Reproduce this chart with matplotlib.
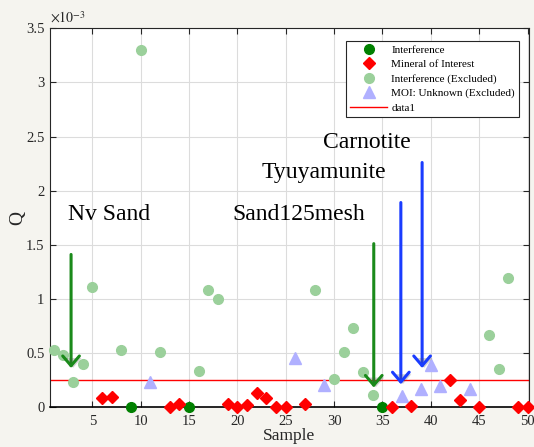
import matplotlib
matplotlib.use("Agg")
import matplotlib.pyplot as plt
import matplotlib.patheffects as pe
import numpy as np

plt.rcParams['font.family'] = ['Liberation Serif', 'DejaVu Serif']
plt.rcParams['mathtext.fontset'] = 'stix'

# Q values in units of 1e-3
interf_x = [9, 15, 35]
interf_y = [0.0, 0.0, 0.0]

moi_x = [6, 7, 13, 14, 19, 20, 21, 22, 23, 24, 25, 27, 36, 38, 42, 43, 45, 49, 50]
moi_y = [0.08, 0.095, 0.0, 0.03, 0.025, 0.0, 0.015, 0.125, 0.08, 0.0, 0.0, 0.03,
         0.0, 0.01, 0.245, 0.065, 0.0, 0.0, 0.0]

interf_ex_x = [1, 2, 3, 4, 5, 8, 10, 12, 16, 17, 18, 28, 30, 31, 32, 33, 34, 46, 47, 48]
interf_ex_y = [0.53, 0.48, 0.23, 0.40, 1.11, 0.525, 3.30, 0.51, 0.33, 1.08, 1.00, 1.08,
               0.26, 0.51, 0.73, 0.32, 0.11, 0.67, 0.35, 1.19]

moi_unk_x = [11, 26, 29, 37, 39, 40, 41, 44]
moi_unk_y = [0.235, 0.455, 0.20, 0.10, 0.17, 0.385, 0.19, 0.17]

threshold = 0.25

labels = ["Interference", "Mineral of Interest", "Interference (Excluded)",
          "MOI: Unknown (Excluded)", "data1"]

annotations = [
    # text, text x, text y, arrow x, arrow top, arrow tip, colour
    ("Nv Sand", 2.5, 1.68, 2.8, 1.41, 0.36, "#1a8a1a"),
    ("Sand125mesh", 19.5, 1.68, 34.1, 1.51, 0.18, "#1a8a1a"),
    ("Tyuyamunite", 22.5, 2.07, 36.9, 1.89, 0.21, "#1a3cff"),
    ("Carnotite", 28.9, 2.35, 39.1, 2.26, 0.36, "#1a3cff"),
]

fig = plt.figure(figsize=(5.34, 4.47), dpi=100)
fig.patch.set_facecolor('#f5f4ef')
ax = fig.add_axes([0.0936, 0.0895, 0.897, 0.847])
ax.set_facecolor('white')

ax.set_xlim(0.62, 50.15)
ax.set_ylim(0, 3.5)
ax.set_xticks(np.arange(5, 51, 5))
ax.set_yticks(np.arange(0, 3.51, 0.5))
ax.set_yticklabels(['0', '0.5', '1', '1.5', '2', '2.5', '3', '3.5'])
ax.grid(True, color='#dcdcdc', linewidth=0.8)
ax.set_axisbelow(True)
ax.tick_params(direction='in', top=True, right=True, length=4, labelsize=10.5,
               color='#262626', labelcolor='#262626')
ax.tick_params(axis='x', pad=6)
ax.tick_params(axis='y', pad=4)
for s in ax.spines.values():
    s.set_color('#262626')
    s.set_linewidth(0.8)
ax.spines['bottom'].set_color('black')
ax.spines['bottom'].set_linewidth(1.2)

ax.plot(interf_x, interf_y, 'o', color='#008000', markersize=7, label=labels[0],
        clip_on=False, zorder=4)
ax.plot(moi_x, moi_y, 'D', color='#ff0000', markersize=6.5, label=labels[1],
        clip_on=False, zorder=4)
ax.plot(interf_ex_x, interf_ex_y, 'o', color='#9bd09b', markersize=7, label=labels[2],
        clip_on=False, zorder=3)
ax.plot(moi_unk_x, moi_unk_y, '^', color='#b0b0ff', markersize=8, label=labels[3],
        clip_on=False, zorder=3)
ax.axhline(threshold, color='#ff0000', linewidth=1.0, label=labels[4], zorder=2)

for text, tx, ty, axx, ytop, ytip, col in annotations:
    ax.text(tx, ty, text, fontsize=17, color='black', ha='left', va='bottom', zorder=6)
    ax.annotate('', xy=(axx, ytip), xytext=(axx, ytop),
                arrowprops=dict(arrowstyle='->,head_length=0.7,head_width=0.6',
                                color=col, lw=2.2, shrinkA=0, shrinkB=0,
                                path_effects=[pe.SimplePatchShadow(offset=(1.5, -1.5), alpha=0.25),
                                              pe.Normal()]),
                zorder=6)

leg = ax.legend(loc='upper right', bbox_to_anchor=(0.979, 0.967), fontsize=8,
                frameon=True, fancybox=False, edgecolor='#262626', framealpha=1,
                borderpad=0.35, labelspacing=0.42, handlelength=3.3, handletextpad=0.4,
                borderaxespad=0)
leg.get_frame().set_linewidth(0.8)

ax.set_xlabel('Sample', fontsize=12.5, color='#262626', labelpad=0)
ax.set_ylabel('Q', fontsize=14, color='#262626', labelpad=0)
ax.text(0.0, 1.008, r'$\times10^{-3}$', transform=ax.transAxes, fontsize=10,
        color='#262626', ha='left', va='bottom')

fig.savefig('out.png', dpi=100, facecolor=fig.get_facecolor())
